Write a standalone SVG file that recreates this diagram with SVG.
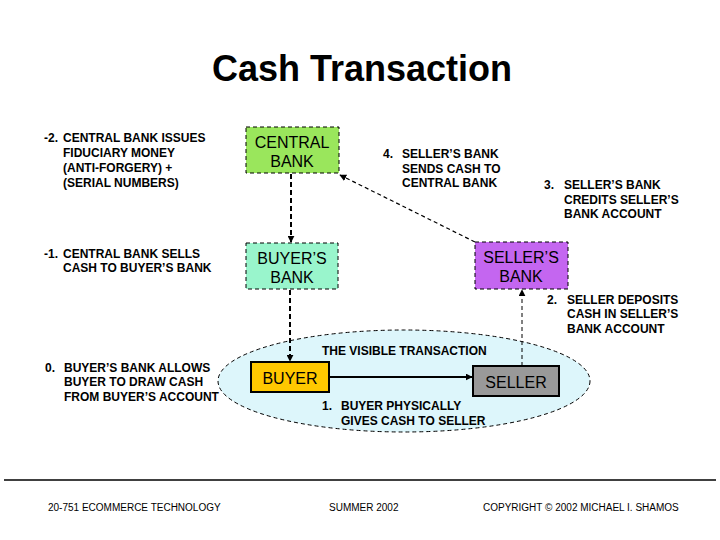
<svg xmlns="http://www.w3.org/2000/svg" width="720" height="540" viewBox="0 0 720 540">
<style>
.t{font-family:"Liberation Sans",Arial,sans-serif;font-weight:bold;font-size:12px;fill:#000}
.n{font-family:"Liberation Sans",Arial,sans-serif;font-size:16px;fill:#000;text-anchor:middle}
.f{font-family:"Liberation Sans",Arial,sans-serif;font-size:10px;fill:#000}
.box{stroke:#000;stroke-width:1;stroke-dasharray:4 3}
.dl{stroke:#000;fill:none}
</style>
<defs>
<marker id="ah" viewBox="0 0 10 10" refX="9" refY="5" markerWidth="7" markerHeight="7" markerUnits="userSpaceOnUse" orient="auto"><path d="M0,0 L10,5 L0,10 z" fill="#000"/></marker>
</defs>
<rect width="720" height="540" fill="#fff"/>
<text x="362" y="81" font-family="Liberation Sans,Arial,sans-serif" font-weight="bold" font-size="36" text-anchor="middle">Cash Transaction</text>

<g id="visible-area">
<ellipse cx="404" cy="381" rx="186" ry="51" fill="#DDF6FB" stroke="#000" stroke-width="1" stroke-dasharray="4 3"/>
</g>

<g id="central-bank"><rect class="box" x="246" y="127" width="93" height="46" fill="#9AE65C"/><text class="n" x="292" y="148">CENTRAL</text><text class="n" x="292" y="167">BANK</text></g>
<g id="buyers-bank"><rect class="box" x="246" y="243" width="92" height="46" fill="#99F5CC"/><text class="n" x="292" y="264">BUYER’S</text><text class="n" x="292" y="283">BANK</text></g>
<g id="sellers-bank"><rect class="box" x="475" y="242" width="93" height="47" fill="#C466F0"/><text class="n" x="521" y="263">SELLER’S</text><text class="n" x="521" y="282">BANK</text></g>
<g id="buyer"><rect x="251" y="362" width="78" height="30" fill="#FFC800" stroke="#000" stroke-width="2"/><text class="n" x="290" y="384" font-size="19">BUYER</text></g>
<g id="seller"><rect x="473" y="366" width="86" height="30" fill="#999999" stroke="#000" stroke-width="2"/><text class="n" x="516" y="388" font-size="19">SELLER</text></g>

<g id="connectors">
<line class="dl" x1="291" y1="174" x2="291" y2="242" stroke-width="2" stroke-dasharray="5 3" marker-end="url(#ah)"/>
<line class="dl" x1="290" y1="290" x2="290" y2="361" stroke-width="2" stroke-dasharray="5 3" marker-end="url(#ah)"/>
<line class="dl" x1="475" y1="242" x2="340" y2="175" stroke-width="1.2" stroke-dasharray="4 3" marker-end="url(#ah)"/>
<line class="dl" x1="522" y1="366" x2="522" y2="290" stroke-width="1" stroke-dasharray="4 3" marker-end="url(#ah)"/>
<line class="dl" x1="329" y1="377" x2="472" y2="377" stroke-width="2" marker-end="url(#ah)"/>
</g>

<g id="labels">
<text class="t" x="44" y="142">-2.</text><text class="t" x="63" y="142">CENTRAL BANK ISSUES</text>
<text class="t" x="63" y="157">FIDUCIARY MONEY</text>
<text class="t" x="63" y="172">(ANTI-FORGERY) +</text>
<text class="t" x="63" y="187">(SERIAL NUMBERS)</text>
<text class="t" x="44" y="258">-1.</text><text class="t" x="63" y="258">CENTRAL BANK SELLS</text>
<text class="t" x="63" y="272">CASH TO BUYER’S BANK</text>
<text class="t" x="383" y="158">4.</text><text class="t" x="402" y="158">SELLER’S BANK</text>
<text class="t" x="402" y="173">SENDS CASH TO</text>
<text class="t" x="402" y="187">CENTRAL BANK</text>
<text class="t" x="544" y="189">3.</text><text class="t" x="564" y="189">SELLER’S BANK</text>
<text class="t" x="564" y="204">CREDITS SELLER’S</text>
<text class="t" x="564" y="218">BANK ACCOUNT</text>
<text class="t" x="547" y="304">2.</text><text class="t" x="567" y="304">SELLER DEPOSITS</text>
<text class="t" x="567" y="318">CASH IN SELLER’S</text>
<text class="t" x="567" y="333">BANK ACCOUNT</text>
<text class="t" x="322" y="355">THE VISIBLE TRANSACTION</text>
<text class="t" x="45" y="372">0.</text><text class="t" x="64" y="372">BUYER’S BANK ALLOWS</text>
<text class="t" x="64" y="386">BUYER TO DRAW CASH</text>
<text class="t" x="64" y="401">FROM BUYER’S ACCOUNT</text>
<text class="t" x="322" y="410">1.</text><text class="t" x="341" y="410">BUYER PHYSICALLY</text>
<text class="t" x="341" y="425">GIVES CASH TO SELLER</text>
</g>

<g id="footer">
<line x1="4" y1="480" x2="716" y2="480" stroke="#000" stroke-width="1.5"/>
<text class="f" x="48" y="511">20-751 ECOMMERCE TECHNOLOGY</text>
<text class="f" x="329" y="511">SUMMER 2002</text>
<text class="f" x="483" y="511">COPYRIGHT © 2002 MICHAEL I. SHAMOS</text>
</g>
</svg>
